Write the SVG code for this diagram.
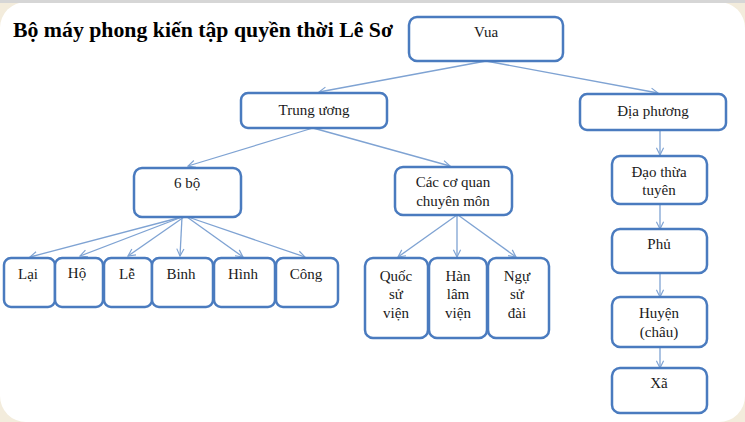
<svg xmlns="http://www.w3.org/2000/svg" width="745" height="422" viewBox="0 0 745 422">
  <defs>
    <marker id="arr" viewBox="0 0 10 10" refX="9" refY="5" markerWidth="9" markerHeight="9" markerUnits="userSpaceOnUse" orient="auto">
      <path d="M1,1 L9,5 L1,9" fill="none" stroke="#7fa3d3" stroke-width="1.3"/>
    </marker>
    <style>
      .box { fill: #ffffff; stroke: #4a7bbf; stroke-width: 2.5; }
      .lbl { font-family: "Liberation Serif", "Times New Roman", serif; font-size: 15px; fill: #1a1a1a; text-anchor: middle; }
      .con { fill: none; stroke: #7fa3d3; stroke-width: 1.3; marker-end: url(#arr); }
    </style>
  </defs>
  <rect x="0" y="0" width="745" height="422" fill="#f3ecdc"/>
  <rect x="0" y="2" width="745" height="420" rx="26" fill="#ffffff"/>
  <rect x="0" y="0" width="745" height="3" fill="#d6d6d6"/>
  <text x="13" y="37" font-family="Liberation Serif, Times New Roman, serif" font-weight="bold" font-size="21" fill="#000" textLength="380" lengthAdjust="spacingAndGlyphs">Bộ máy phong kiến tập quyền thời Lê Sơ</text>

  <g id="connectors">
    <line class="con" x1="486" y1="61" x2="319" y2="92"/>
    <line class="con" x1="486" y1="61" x2="658" y2="93"/>
    <line class="con" x1="313" y1="128" x2="188" y2="166"/>
    <line class="con" x1="313" y1="128" x2="450" y2="166"/>
    <line class="con" x1="182" y1="217" x2="30" y2="257"/>
    <line class="con" x1="182" y1="217" x2="80" y2="256"/>
    <line class="con" x1="184" y1="217" x2="128" y2="256"/>
    <line class="con" x1="182" y1="217" x2="180" y2="256"/>
    <line class="con" x1="187" y1="217" x2="243" y2="257"/>
    <line class="con" x1="188" y1="217" x2="305" y2="257"/>
    <line class="con" x1="457" y1="215" x2="398" y2="257"/>
    <line class="con" x1="457" y1="215" x2="457" y2="257"/>
    <line class="con" x1="458" y1="215" x2="516" y2="257"/>
    <line class="con" x1="660" y1="130" x2="660" y2="155"/>
    <line class="con" x1="660" y1="204" x2="660" y2="229"/>
    <line class="con" x1="660" y1="273" x2="660" y2="297"/>
    <line class="con" x1="660" y1="347" x2="660" y2="368"/>
  </g>

  <g id="vua"><rect class="box" x="409" y="17" width="154" height="44" rx="8"/><text class="lbl" x="486" y="37">Vua</text></g>
  <g id="trung-uong"><rect class="box" x="241" y="93" width="146" height="35" rx="7"/><text class="lbl" x="314" y="115">Trung ương</text></g>
  <g id="dia-phuong"><rect class="box" x="580" y="94" width="146" height="36" rx="7"/><text class="lbl" x="653" y="116">Địa phương</text></g>

  <g id="sau-bo"><rect class="box" x="134" y="168" width="107" height="49" rx="8"/><text class="lbl" x="187" y="188">6 bộ</text></g>
  <g id="co-quan"><rect class="box" x="395" y="167" width="117" height="48" rx="8"/><text class="lbl" x="453" y="187">Các cơ quan</text><text class="lbl" x="453" y="206">chuyên môn</text></g>

  <g id="lai"><rect class="box" x="4" y="258" width="51" height="49" rx="7"/><text class="lbl" x="28" y="279">Lại</text></g>
  <g id="ho"><rect class="box" x="55" y="258" width="48" height="49" rx="7"/><text class="lbl" x="77" y="278">Hộ</text></g>
  <g id="le"><rect class="box" x="104" y="258" width="48" height="49" rx="7"/><text class="lbl" x="127" y="279">Lễ</text></g>
  <g id="binh"><rect class="box" x="152" y="258" width="61" height="49" rx="7"/><text class="lbl" x="181" y="279">Binh</text></g>
  <g id="hinh"><rect class="box" x="214" y="258" width="61" height="49" rx="7"/><text class="lbl" x="243" y="279">Hình</text></g>
  <g id="cong"><rect class="box" x="276" y="258" width="62" height="49" rx="7"/><text class="lbl" x="306" y="279">Công</text></g>

  <g id="quoc-su-vien"><rect class="box" x="365" y="258" width="63" height="80" rx="8"/><text class="lbl" x="396" y="281">Quốc</text><text class="lbl" x="396" y="299">sử</text><text class="lbl" x="396" y="318">viện</text></g>
  <g id="han-lam-vien"><rect class="box" x="429" y="258" width="58" height="80" rx="8"/><text class="lbl" x="458" y="281">Hàn</text><text class="lbl" x="458" y="299">lâm</text><text class="lbl" x="458" y="318">viện</text></g>
  <g id="ngu-su-dai"><rect class="box" x="488" y="258" width="61" height="80" rx="8"/><text class="lbl" x="517" y="281">Ngự</text><text class="lbl" x="517" y="299">sử</text><text class="lbl" x="517" y="318">đài</text></g>

  <g id="dao-thua-tuyen"><rect class="box" x="612" y="156" width="95" height="48" rx="8"/><text class="lbl" x="659" y="177">Đạo thừa</text><text class="lbl" x="659" y="195">tuyên</text></g>
  <g id="phu"><rect class="box" x="612" y="229" width="95" height="44" rx="8"/><text class="lbl" x="659" y="249">Phủ</text></g>
  <g id="huyen"><rect class="box" x="612" y="297" width="95" height="50" rx="8"/><text class="lbl" x="659" y="318">Huyện</text><text class="lbl" x="659" y="337">(châu)</text></g>
  <g id="xa"><rect class="box" x="612" y="368" width="95" height="45" rx="8"/><text class="lbl" x="659" y="388">Xã</text></g>
</svg>
